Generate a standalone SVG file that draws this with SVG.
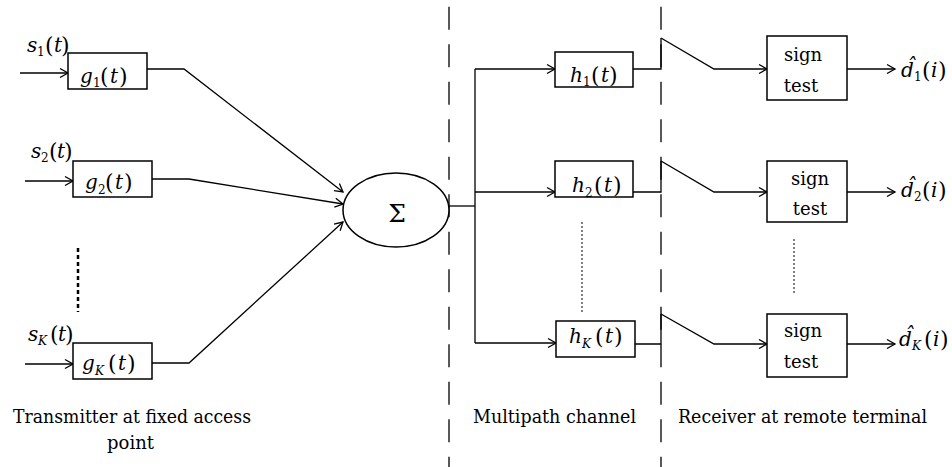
<svg xmlns="http://www.w3.org/2000/svg" width="952" height="467" viewBox="0 0 952 467" font-family="DejaVu Serif, serif">
<defs>
<style>
text{font-family:"DejaVu Serif",serif;fill:#000}
.t{font-size:18px}
.lab{font-size:18.5px}
.mi{font-style:italic;font-size:20px}
.sub{font-size:12px}
.subi{font-size:12px;font-style:italic}
.par{font-size:22px}
.box{fill:#fff;stroke:#000;stroke-width:1.5}
.ln{fill:none;stroke:#000;stroke-width:1.3}
.dash{fill:none;stroke:#000;stroke-width:1.3;stroke-dasharray:23 14.5;stroke-dashoffset:30.8}
.dot{fill:none;stroke:#000;stroke-width:1;stroke-dasharray:2 2}
.dotb{fill:none;stroke:#000;stroke-width:2.5;stroke-dasharray:4 3}
</style>
<marker id="arr" markerUnits="userSpaceOnUse" markerWidth="12" markerHeight="12" viewBox="0 0 12 12" refX="10" refY="6" orient="auto">
<path d="M2,1.5 L10,6 L2,10.5" fill="none" stroke="#000" stroke-width="1.3"/>
</marker>
</defs>
<rect width="952" height="467" fill="#fff"/>

<g id="dividers">
<line class="dash" x1="449" y1="0" x2="449" y2="467"/>
<line class="dash" x1="661" y1="0" x2="661" y2="467"/>
</g>

<g id="connectors">
<line class="ln" x1="20" y1="73" x2="68" y2="73" marker-end="url(#arr)"/>
<line class="ln" x1="25" y1="181" x2="73" y2="181" marker-end="url(#arr)"/>
<line class="ln" x1="25" y1="364" x2="73" y2="364" marker-end="url(#arr)"/>
<polyline class="ln" points="147,69 184,69 343,192" marker-end="url(#arr)"/>
<polyline class="ln" points="152,179 189,179 343,204" marker-end="url(#arr)"/>
<polyline class="ln" points="152,363 189,363 343,222" marker-end="url(#arr)"/>
<polyline class="ln" points="449,206 475,206"/>
<polyline class="ln" points="475,69 475,343"/>
<line class="ln" x1="475" y1="69" x2="555" y2="69" marker-end="url(#arr)"/>
<line class="ln" x1="475" y1="192" x2="555" y2="192" marker-end="url(#arr)"/>
<line class="ln" x1="475" y1="343" x2="556" y2="343" marker-end="url(#arr)"/>
<polyline class="ln" points="633,69 661,69 661,38"/>
<polyline class="ln" points="633,192 661,192 661,161"/>
<polyline class="ln" points="635,344 661,344 661,314"/>
<polyline class="ln" points="661,38 714,69 767,69" marker-end="url(#arr)"/>
<polyline class="ln" points="661,161 714,192 767,192" marker-end="url(#arr)"/>
<polyline class="ln" points="661,314 714,344 767,344" marker-end="url(#arr)"/>
<line class="ln" x1="847" y1="69" x2="895" y2="69" marker-end="url(#arr)"/>
<line class="ln" x1="847" y1="192" x2="895" y2="192" marker-end="url(#arr)"/>
<line class="ln" x1="847" y1="344" x2="895" y2="344" marker-end="url(#arr)"/>
<line class="dotb" x1="78" y1="248" x2="78" y2="312"/>
<line class="dot" x1="582" y1="222" x2="582" y2="313"/>
<line class="dot" x1="794" y1="239" x2="794" y2="295"/>
</g>

<g id="inputs">
<text y="52"><tspan class="mi" x="27">s</tspan><tspan class="sub" x="37" y="56">1</tspan><tspan class="par" x="45" y="53">(</tspan><tspan class="mi" x="54" y="52">t</tspan><tspan class="par" x="61" y="53">)</tspan></text>
<text y="158"><tspan class="mi" x="31">s</tspan><tspan class="sub" x="41" y="162">2</tspan><tspan class="par" x="49" y="159">(</tspan><tspan class="mi" x="57" y="158">t</tspan><tspan class="par" x="64" y="159">)</tspan></text>
<text y="341"><tspan class="mi" x="28">s</tspan><tspan class="subi" x="38" y="345">K</tspan><tspan class="par" x="50" y="342">(</tspan><tspan class="mi" x="58" y="341">t</tspan><tspan class="par" x="65" y="342">)</tspan></text>
</g>

<g id="g1">
<rect class="box" x="68" y="53" width="79" height="36"/>
<text y="83"><tspan class="mi" x="80">g</tspan><tspan class="sub" x="93" y="87">1</tspan><tspan class="par" x="100" y="84">(</tspan><tspan class="mi" x="110" y="83">t</tspan><tspan class="par" x="119" y="84">)</tspan></text>
</g>
<g id="g2">
<rect class="box" x="73" y="161" width="79" height="36"/>
<text y="189"><tspan class="mi" x="85">g</tspan><tspan class="sub" x="98" y="194">2</tspan><tspan class="par" x="105" y="190">(</tspan><tspan class="mi" x="115" y="189">t</tspan><tspan class="par" x="124" y="190">)</tspan></text>
</g>
<g id="gK">
<rect class="box" x="73" y="343" width="79" height="36"/>
<text y="370"><tspan class="mi" x="82">g</tspan><tspan class="subi" x="95" y="375">K</tspan><tspan class="par" x="108" y="371">(</tspan><tspan class="mi" x="118" y="370">t</tspan><tspan class="par" x="127" y="371">)</tspan></text>
</g>

<g id="sum">
<ellipse class="box" cx="396" cy="210" rx="53" ry="37"/>
<text x="397" y="222" text-anchor="middle" font-size="25">Σ</text>
</g>

<g id="h1">
<rect class="box" x="555" y="52" width="78" height="35"/>
<text y="82"><tspan class="mi" x="570">h</tspan><tspan class="sub" x="583" y="86">1</tspan><tspan class="par" x="591" y="83">(</tspan><tspan class="mi" x="601" y="82">t</tspan><tspan class="par" x="609" y="83">)</tspan></text>
</g>
<g id="h2">
<rect class="box" x="555" y="161" width="78" height="36"/>
<text y="192"><tspan class="mi" x="572">h</tspan><tspan class="sub" x="585" y="197">2</tspan><tspan class="par" x="594" y="193">(</tspan><tspan class="mi" x="604" y="192">t</tspan><tspan class="par" x="613" y="193">)</tspan></text>
</g>
<g id="hK">
<rect class="box" x="556" y="321" width="79" height="36"/>
<text y="343"><tspan class="mi" x="569">h</tspan><tspan class="subi" x="582" y="348">K</tspan><tspan class="par" x="595" y="344">(</tspan><tspan class="mi" x="605" y="343">t</tspan><tspan class="par" x="614" y="344">)</tspan></text>
</g>

<g id="sign1">
<rect class="box" x="767" y="36" width="80" height="64"/>
<text class="t" x="803" y="61" text-anchor="middle">sign</text>
<text class="t" x="801" y="92" text-anchor="middle">test</text>
</g>
<g id="sign2">
<rect class="box" x="767" y="161" width="80" height="61"/>
<text class="t" x="810" y="185" text-anchor="middle">sign</text>
<text class="t" x="810" y="215" text-anchor="middle">test</text>
</g>
<g id="signK">
<rect class="box" x="767" y="314" width="80" height="63"/>
<text class="t" x="803" y="337" text-anchor="middle">sign</text>
<text class="t" x="801" y="368" text-anchor="middle">test</text>
</g>

<g id="outputs">
<text y="77"><tspan class="mi" x="901">d̂</tspan><tspan class="sub" x="914" y="81">1</tspan><tspan class="par" x="922" y="78">(</tspan><tspan class="mi" x="931" y="77">i</tspan><tspan class="par" x="938" y="78">)</tspan></text>
<text y="197"><tspan class="mi" x="901">d̂</tspan><tspan class="sub" x="914" y="201">2</tspan><tspan class="par" x="922" y="198">(</tspan><tspan class="mi" x="931" y="197">i</tspan><tspan class="par" x="938" y="198">)</tspan></text>
<text y="346"><tspan class="mi" x="899">d̂</tspan><tspan class="subi" x="912" y="350">K</tspan><tspan class="par" x="924" y="347">(</tspan><tspan class="mi" x="933" y="346">i</tspan><tspan class="par" x="940" y="347">)</tspan></text>
</g>

<g id="labels">
<text class="lab" x="13" y="423" textLength="238" lengthAdjust="spacingAndGlyphs">Transmitter at fixed access</text>
<text class="lab" x="107" y="449" textLength="47" lengthAdjust="spacingAndGlyphs">point</text>
<text class="lab" x="473" y="423" textLength="163" lengthAdjust="spacingAndGlyphs">Multipath channel</text>
<text class="lab" x="678" y="423" textLength="249" lengthAdjust="spacingAndGlyphs">Receiver at remote terminal</text>
</g>
</svg>
